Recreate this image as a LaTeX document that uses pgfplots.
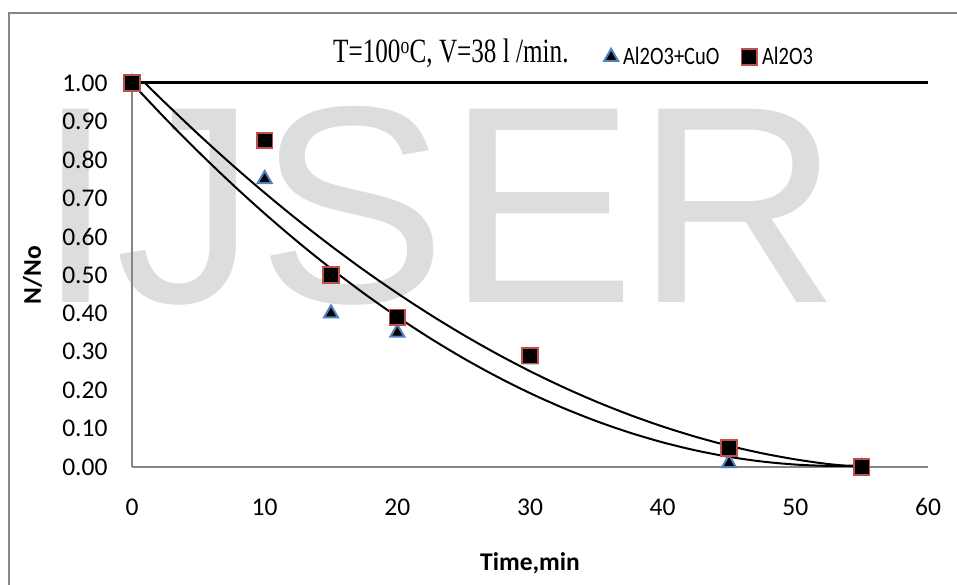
\documentclass[border=0pt]{standalone}
\usepackage{fontspec}
\usepackage{graphicx}
\usepackage{pgfplots}
\pgfplotsset{compat=1.18}
\setmainfont{Carlito}
\newfontfamily\timesfont{Liberation Serif}
\newfontfamily\arialfont{Liberation Sans}
\definecolor{wm}{RGB}{221,221,221}
\definecolor{axgray}{RGB}{134,134,134}
\definecolor{xlblue}{RGB}{79,129,189}
\definecolor{xlred}{RGB}{192,80,77}
\begin{document}
\begin{tikzpicture}[x=1pt,y=1pt]
\path[use as bounding box] (0,0) rectangle (957,584);
\clip (0,0) rectangle (957,584);
% watermark
\node[anchor=base west, inner sep=0pt, text=wm] at (36,281) {\arialfont\fontsize{281}{300}\selectfont\scalebox{1.01}[1]{IJSER}};
% chart border
\draw[axgray, line width=2pt] (9,571) rectangle (990,-30);
% title
\node[anchor=base west, inner sep=0pt] at (333,521) {\timesfont\fontsize{34}{40}\selectfont\scalebox{0.74}[1]{T=100\textsuperscript{o}C, V=38 l /min.}};
\begin{axis}[
  at={(132pt,117pt)}, anchor=south west,
  scale only axis, width=796pt, height=384pt,
  xmin=0, xmax=60, ymin=0, ymax=1,
  clip=false,
  axis x line=bottom, axis y line=left,
  axis line style={-, axgray, line width=1.5pt},
  xtick={0,10,...,60},
  ytick={0,0.1,0.2,0.3,0.4,0.5,0.6,0.7,0.8,0.9,1.0},
  major tick length=0pt,
  /pgf/number format/assume math mode=true,
  tick label style={font=\fontsize{25.5}{30}\selectfont, black},
  yticklabel style={xshift=-21pt, /pgf/number format/.cd, fixed, fixed zerofill, precision=2},
  xticklabel style={yshift=-28pt, /pgf/number format/.cd, fixed, precision=0},
  xlabel={\bfseries Time,min},
  ylabel={\bfseries N/No},
  every axis x label/.style={at={(axis description cs:0.5,-0.25)}, anchor=center, font=\fontsize{25.5}{30}\selectfont},
  every axis y label/.style={at={(axis description cs:-0.125,0.5)}, anchor=center, rotate=90, font=\fontsize{25.5}{30}\selectfont},
  legend columns=2,
  legend style={at={(axis description cs:0.593,1.068)}, anchor=west, draw=none, fill=none,
    font=\fontsize{25}{30}\selectfont, inner sep=0pt,
    /tikz/every odd column/.append style={column sep=3pt},
    /tikz/every even column/.append style={column sep=20pt}},
  legend image code/.code={\draw[mark repeat=2,mark phase=2,#1] plot coordinates {(0pt,0pt) (8pt,0pt) (16pt,0pt)};},
]
% top line
\addplot[black, line width=3pt, forget plot] coordinates {(0,1) (60,1)};
% trendlines (2nd order polynomial fits)
\addplot[black, line width=2pt, smooth, forget plot] coordinates {
(0,0.99944) (2.5,0.90798) (5,0.82093) (7.5,0.73828) (10,0.66003) (12.5,0.58618)
(15,0.51673) (17.5,0.45168) (20,0.39103) (22.5,0.33477) (25,0.28292) (27.5,0.23547)
(30,0.19242) (32.5,0.15376) (35,0.11951) (37.5,0.08966) (40,0.06420) (42.5,0.04315)
(45,0.02649) (47.5,0.01424) (50,0.00639) (52.5,0.00293) (55,0.00387)};
\addplot[black, line width=2pt, smooth, forget plot] coordinates {
(1,0.99928) (2.5,0.94841) (5,0.86656) (7.5,0.78837) (10,0.71385) (12.5,0.64300)
(15,0.57580) (17.5,0.51228) (20,0.45241) (22.5,0.39621) (25,0.34368) (27.5,0.29481)
(30,0.24960) (32.5,0.20806) (35,0.17018) (37.5,0.13597) (40,0.10542) (42.5,0.07854)
(45,0.05532) (47.5,0.03576) (50,0.01987) (52.5,0.00765) (55,0.0)};
% data
\addplot[only marks, mark=triangle*, mark size=8pt, mark options={fill=black, draw=xlblue, line width=2pt}]
coordinates {(0,1.0) (10,0.75) (15,0.40) (20,0.35) (30,0.28) (45,0.01) (55,0.0)};
\addlegendentry{\scalebox{0.82}[1]{Al2O3+CuO}}
\addplot[only marks, mark=square*, mark size=7.8pt, mark options={fill=black, draw=xlred, line width=1.8pt}]
coordinates {(0,1.0) (10,0.85) (15,0.50) (20,0.39) (30,0.29) (45,0.05) (55,0.0)};
\addlegendentry{\scalebox{0.82}[1]{Al2O3}}
\end{axis}
\end{tikzpicture}
\end{document}
